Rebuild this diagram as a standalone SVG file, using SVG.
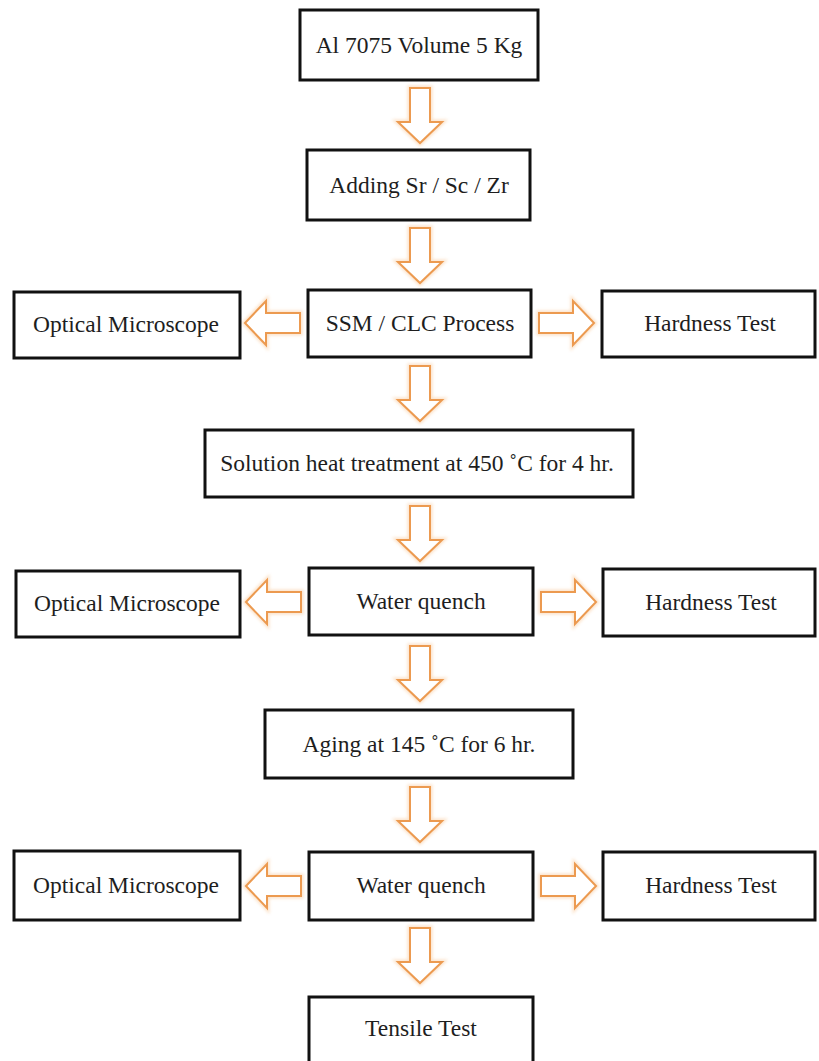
<svg xmlns="http://www.w3.org/2000/svg" xmlns:xlink="http://www.w3.org/1999/xlink" width="819" height="1061" viewBox="0 0 819 1061">
  <style>
    .box { fill: #ffffff; stroke: #111111; stroke-width: 3; }
    .lbl { font-family: "Liberation Serif", "Times New Roman", serif; font-size: 23.5px; fill: #1e1e1e; text-anchor: middle; }
    .arr { fill: #ffffff; stroke: #ec9a50; stroke-width: 2; stroke-linejoin: miter; }
    .glow { fill: none; stroke: #f7c089; stroke-width: 5; opacity: 0.45; filter: url(#soft); }
  </style>
  <defs>
    <filter id="soft" x="-30%" y="-30%" width="160%" height="160%">
      <feGaussianBlur stdDeviation="1.5"/>
    </filter>
    <!-- block arrow pointing down, origin at the middle of its tail -->
    <path id="blk" d="M -10 0 H 10 V 34 H 22 L 0 55 L -22 34 H -10 Z"/>
  </defs>

  <rect width="819" height="1061" fill="#ffffff"/>

  <!-- connectors -->
  <g id="connectors">
    <g id="a1" transform="translate(420,88)"><use xlink:href="#blk" class="glow"/><use xlink:href="#blk" class="arr"/></g>
    <g id="a2" transform="translate(420,228)"><use xlink:href="#blk" class="glow"/><use xlink:href="#blk" class="arr"/></g>
    <g id="a3" transform="translate(300,323) rotate(90)"><use xlink:href="#blk" class="glow"/><use xlink:href="#blk" class="arr"/></g>
    <g id="a4" transform="translate(539,323) rotate(-90)"><use xlink:href="#blk" class="glow"/><use xlink:href="#blk" class="arr"/></g>
    <g id="a5" transform="translate(420,366)"><use xlink:href="#blk" class="glow"/><use xlink:href="#blk" class="arr"/></g>
    <g id="a6" transform="translate(420,506)"><use xlink:href="#blk" class="glow"/><use xlink:href="#blk" class="arr"/></g>
    <g id="a7" transform="translate(301,602) rotate(90)"><use xlink:href="#blk" class="glow"/><use xlink:href="#blk" class="arr"/></g>
    <g id="a8" transform="translate(541,602) rotate(-90)"><use xlink:href="#blk" class="glow"/><use xlink:href="#blk" class="arr"/></g>
    <g id="a9" transform="translate(420,646)"><use xlink:href="#blk" class="glow"/><use xlink:href="#blk" class="arr"/></g>
    <g id="a10" transform="translate(420,787)"><use xlink:href="#blk" class="glow"/><use xlink:href="#blk" class="arr"/></g>
    <g id="a11" transform="translate(301,886) rotate(90)"><use xlink:href="#blk" class="glow"/><use xlink:href="#blk" class="arr"/></g>
    <g id="a12" transform="translate(541,886) rotate(-90)"><use xlink:href="#blk" class="glow"/><use xlink:href="#blk" class="arr"/></g>
    <g id="a13" transform="translate(420,928)"><use xlink:href="#blk" class="glow"/><use xlink:href="#blk" class="arr"/></g>
  </g>

  <!-- process steps -->
  <g id="alloy">
    <rect class="box" x="300" y="10" width="238" height="70"/>
    <text class="lbl" x="419" y="53">Al 7075 Volume 5 Kg</text>
  </g>
  <g id="adding">
    <rect class="box" x="307" y="150" width="223" height="70"/>
    <text class="lbl" x="419" y="193">Adding Sr / Sc / Zr</text>
  </g>
  <g id="ssm">
    <rect class="box" x="308" y="290" width="223" height="67"/>
    <text class="lbl" x="420" y="331">SSM / CLC Process</text>
  </g>
  <g id="om1">
    <rect class="box" x="14" y="292" width="226" height="66"/>
    <text class="lbl" x="126" y="332">Optical Microscope</text>
  </g>
  <g id="ht1">
    <rect class="box" x="602" y="291" width="213" height="66"/>
    <text class="lbl" x="710" y="331">Hardness Test</text>
  </g>
  <g id="solution">
    <rect class="box" x="205" y="430" width="428" height="67"/>
    <text class="lbl" x="417" y="471">Solution heat treatment at 450 ˚C for 4 hr.</text>
  </g>
  <g id="wq1">
    <rect class="box" x="309" y="568" width="224" height="67"/>
    <text class="lbl" x="421" y="609">Water quench</text>
  </g>
  <g id="om2">
    <rect class="box" x="16" y="571" width="224" height="66"/>
    <text class="lbl" x="127" y="611">Optical Microscope</text>
  </g>
  <g id="ht2">
    <rect class="box" x="603" y="569" width="212" height="67"/>
    <text class="lbl" x="711" y="610">Hardness Test</text>
  </g>
  <g id="aging">
    <rect class="box" x="265" y="710" width="308" height="68"/>
    <text class="lbl" x="419" y="752">Aging at 145 ˚C for 6 hr.</text>
  </g>
  <g id="wq2">
    <rect class="box" x="309" y="852" width="224" height="68"/>
    <text class="lbl" x="421" y="893">Water quench</text>
  </g>
  <g id="om3">
    <rect class="box" x="14" y="851" width="226" height="69"/>
    <text class="lbl" x="126" y="893">Optical Microscope</text>
  </g>
  <g id="ht3">
    <rect class="box" x="603" y="852" width="212" height="68"/>
    <text class="lbl" x="711" y="893">Hardness Test</text>
  </g>
  <g id="tensile">
    <rect class="box" x="309" y="997" width="224" height="70"/>
    <text class="lbl" x="421" y="1036">Tensile Test</text>
  </g>
</svg>
